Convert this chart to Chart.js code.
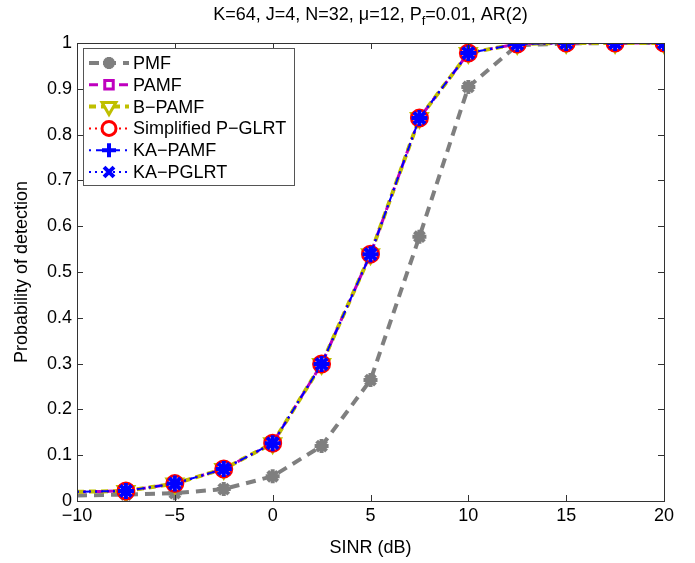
<!DOCTYPE html>
<html>
<head>
<meta charset="utf-8">
<script src="https://cdn.jsdelivr.net/npm/chart.js@4/dist/chart.umd.min.js"></script>
<style>
  html, body { margin: 0; padding: 0; background: #fff; }
  #wrap { width: 695px; height: 563px; }
</style>
</head>
<body>
<div id="wrap"><canvas id="pd"></canvas></div>
<script>
// SINR grid (dB) and detection probabilities
const sinr = [-10, -7.5, -5, -2.5, 0, 2.5, 5, 7.5, 10, 12.5, 15, 17.5, 20];
const pmf = [0.012, 0.014, 0.017, 0.026, 0.054, 0.12, 0.264, 0.577, 0.904, 0.995, 0.999, 1, 1];
const pamf = [0.02, 0.022, 0.038, 0.07, 0.126, 0.299, 0.539, 0.836, 0.978, 0.998, 1, 1, 1];
const bPamf = [0.02, 0.022, 0.038, 0.07, 0.126, 0.299, 0.539, 0.836, 0.978, 0.998, 1, 1, 1];
const simplifiedPGlrt = [0.02, 0.022, 0.038, 0.07, 0.126, 0.299, 0.539, 0.836, 0.978, 0.998, 1, 1, 1];
const kaPamf = [0.02, 0.022, 0.038, 0.07, 0.126, 0.299, 0.539, 0.836, 0.978, 0.998, 1, 1, 1];
const kaPglrt = [0.02, 0.022, 0.038, 0.07, 0.126, 0.299, 0.539, 0.836, 0.978, 0.998, 1, 1, 1];
const yTicks = [0, 0.1, 0.2, 0.3, 0.4, 0.5, 0.6, 0.7, 0.8, 0.9, 1];
const xTicks = [-10, -5, 0, 5, 10, 15, 20];

const FONT = '"Liberation Sans", Arial, Helvetica, sans-serif';

const toPoints = (ys) => ys.map((y, i) => ({ x: sinr[i], y: y }));
// first sample (-10 dB) has no marker in the figure
const markerRadius = (r) => sinr.map((x, i) => (i === 0 ? 0 : r));

const series = [
  { label: 'PMF', data: pmf, color: '#7f7f7f', width: 4, dash: [10, 7], point: 'star', radius: 7, pointWidth: 4, fill: '#7f7f7f', rotation: 0 },
  { label: 'PAMF', data: pamf, color: '#bf00bf', width: 3, dash: [9, 6], point: 'rect', radius: 7, pointWidth: 3, fill: '#ffffff', rotation: 0 },
  { label: 'B\u2212PAMF', data: bPamf, color: '#bfbf00', width: 4, dash: [7, 5], point: 'triangle', radius: 9, pointWidth: 3, fill: '#ffffff', rotation: 180 },
  { label: 'Simplified P\u2212GLRT', data: simplifiedPGlrt, color: '#ff0000', width: 2, dash: [2, 4], point: 'circle', radius: 8, pointWidth: 3, fill: '#ffffff', rotation: 0 },
  { label: 'KA\u2212PAMF', data: kaPamf, color: '#0000ff', width: 2, dash: [2, 5, 6, 5], point: 'cross', radius: 8, pointWidth: 4, fill: '#0000ff', rotation: 0 },
  { label: 'KA\u2212PGLRT', data: kaPglrt, color: '#0000ff', width: 2, dash: [2, 4], point: 'crossRot', radius: 8, pointWidth: 4, fill: '#0000ff', rotation: 0 }
];

function drawMarker(ctx, s, x, y) {
  ctx.save();
  ctx.setLineDash([]);
  ctx.strokeStyle = s.color;
  ctx.fillStyle = s.fill;
  ctx.lineWidth = s.pointWidth;
  if (Chart.helpers && Chart.helpers.drawPoint) {
    Chart.helpers.drawPoint(ctx, { pointStyle: s.point, radius: s.radius, rotation: s.rotation, borderWidth: s.pointWidth }, x, y);
  }
  ctx.restore();
}

// title with subscript, box with inward ticks, legend inside the axes
const matlabLook = {
  id: 'matlabLook',
  afterDraw(chart) {
    const ctx = chart.ctx;
    const a = chart.chartArea;
    const xs = chart.scales.x, ys = chart.scales.y;

    ctx.save();
    ctx.strokeStyle = '#333';
    ctx.lineWidth = 1;
    ctx.setLineDash([]);
    ctx.strokeRect(Math.round(a.left) + 0.5, Math.round(a.top) + 0.5, Math.round(a.right - a.left), Math.round(a.bottom - a.top));
    ctx.beginPath();
    yTicks.forEach(v => {
      const py = Math.round(ys.getPixelForValue(v)) + 0.5;
      ctx.moveTo(a.left, py); ctx.lineTo(a.left + 6, py);
      ctx.moveTo(a.right, py); ctx.lineTo(a.right - 6, py);
    });
    xTicks.forEach(v => {
      const px = Math.round(xs.getPixelForValue(v)) + 0.5;
      ctx.moveTo(px, a.bottom); ctx.lineTo(px, a.bottom - 6);
      ctx.moveTo(px, a.top); ctx.lineTo(px, a.top + 6);
    });
    ctx.stroke();

    // title
    const parts = ['K=64, J=4, N=32, \u03bc=12, P', 'f', '=0.01, AR(2)'];
    const big = '18px ' + FONT, small = '13px ' + FONT;
    ctx.fillStyle = '#000';
    ctx.textBaseline = 'alphabetic';
    ctx.textAlign = 'left';
    ctx.font = big; const w0 = ctx.measureText(parts[0]).width;
    ctx.font = small; const w1 = ctx.measureText(parts[1]).width;
    ctx.font = big; const w2 = ctx.measureText(parts[2]).width;
    let tx = (a.left + a.right) / 2 - (w0 + w1 + w2) / 2;
    const ty = 20;
    ctx.font = big; ctx.fillText(parts[0], tx, ty); tx += w0;
    ctx.font = small; ctx.fillText(parts[1], tx, ty + 5); tx += w1;
    ctx.font = big; ctx.fillText(parts[2], tx, ty);

    // legend
    const lx = 83, ly = 48, lw = 211, lh = 137;
    ctx.fillStyle = '#fff';
    ctx.fillRect(lx, ly, lw, lh);
    ctx.strokeStyle = '#555';
    ctx.lineWidth = 1;
    ctx.strokeRect(lx + 0.5, ly + 0.5, lw, lh);
    ctx.font = '18px ' + FONT;
    ctx.textBaseline = 'middle';
    series.forEach((s, i) => {
      const cy = ly + 15 + i * 21.8;
      ctx.save();
      ctx.strokeStyle = s.color;
      ctx.lineWidth = s.width;
      ctx.setLineDash(s.dash);
      ctx.beginPath();
      ctx.moveTo(lx + 6, cy);
      ctx.lineTo(lx + 46, cy);
      ctx.stroke();
      ctx.restore();
      drawMarker(ctx, Object.assign({}, s, { radius: s.radius - 1 }), lx + 26, cy);
      ctx.fillStyle = '#000';
      ctx.fillText(s.label, lx + 50, cy + 1);
    });
    ctx.restore();
  }
};

new Chart(document.getElementById('pd'), {
  type: 'line',
  data: {
    datasets: series.map((s, i) => ({
      label: s.label,
      data: toPoints(s.data),
      borderColor: s.color,
      borderWidth: s.width,
      borderDash: s.dash,
      backgroundColor: s.fill,
      pointStyle: s.point,
      pointRadius: markerRadius(s.radius),
      pointBorderWidth: s.pointWidth,
      pointBorderColor: s.color,
      pointBackgroundColor: s.fill,
      pointRotation: s.rotation,
      tension: 0,
      fill: false,
      order: series.length - 1 - i
    }))
  },
  options: {
    responsive: true,
    maintainAspectRatio: false,
    animation: false,
    layout: { padding: { top: 43, right: 31, left: 0, bottom: 0 } },
    plugins: {
      legend: { display: false },
      title: { display: false },
      tooltip: { enabled: false }
    },
    scales: {
      x: {
        type: 'linear',
        min: -10,
        max: 20,
        afterBuildTicks: (scale) => { scale.ticks = xTicks.map(v => ({ value: v })); },
        afterFit: (scale) => { scale.height = 62; },
        grid: { display: false, drawTicks: false },
        border: { display: false },
        ticks: {
          padding: 4,
          color: '#000',
          font: { family: FONT, size: 18 },
          maxRotation: 0,
          callback: (v) => String(v).replace('-', '\u2212')
        },
        title: {
          display: true,
          text: 'SINR (dB)',
          color: '#000',
          font: { family: FONT, size: 18 },
          padding: { top: 0, bottom: 4 }
        }
      },
      y: {
        min: 0,
        max: 1,
        afterBuildTicks: (scale) => { scale.ticks = yTicks.map(v => ({ value: v })); },
        afterFit: (scale) => { scale.width = 77; },
        grid: { display: false, drawTicks: false },
        border: { display: false },
        ticks: {
          padding: 5,
          color: '#000',
          font: { family: FONT, size: 18 },
          callback: (v) => (v === 0 || v === 1) ? String(v) : v.toFixed(1)
        },
        title: {
          display: true,
          text: 'Probability of detection',
          color: '#000',
          font: { family: FONT, size: 18 },
          padding: { top: 11, bottom: 0 }
        }
      }
    }
  },
  plugins: [matlabLook]
});
</script>
</body>
</html>
